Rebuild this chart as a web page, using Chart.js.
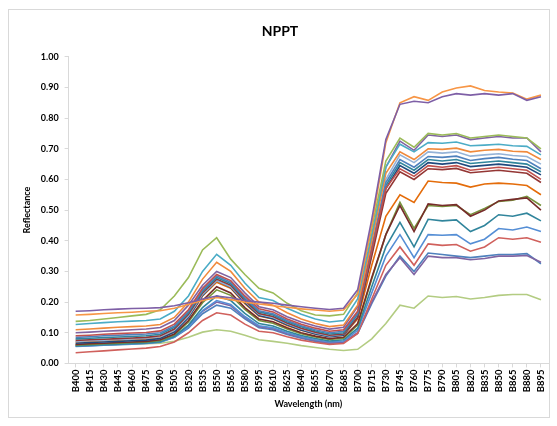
<!DOCTYPE html>
<html>
<head>
<meta charset="utf-8">
<script src="https://cdn.jsdelivr.net/npm/chart.js@4"></script>
<style>
  body { margin: 0; background: #fff; }
  canvas { display: block; }
</style>
</head>
<body>
<canvas id="chart" width="557" height="426"></canvas>
<script>
const bands = ['B400','B415','B430','B445','B460','B475','B490','B505','B520','B535','B550','B565',
  'B580','B595','B610','B625','B640','B655','B670','B685','B700','B715','B730','B745','B760','B775',
  'B790','B805','B820','B835','B850','B865','B880','B895'];

const yTicks = [0, 0.1, 0.2, 0.3, 0.4, 0.5, 0.6, 0.7, 0.8, 0.9, 1.0];

// one array per sample
const s01 = [0.170,0.172,0.175,0.177,0.179,0.180,0.182,0.188,0.198,0.210,0.220,0.214,0.205,0.200,0.196,0.190,0.185,0.180,0.176,0.180,0.240,0.470,0.730,0.845,0.855,0.850,0.870,0.880,0.875,0.880,0.875,0.880,0.858,0.870];
const s02 = [0.158,0.160,0.163,0.165,0.167,0.170,0.172,0.180,0.192,0.205,0.215,0.208,0.200,0.194,0.188,0.183,0.178,0.174,0.170,0.174,0.225,0.450,0.720,0.850,0.870,0.858,0.885,0.898,0.905,0.890,0.885,0.882,0.862,0.875];
const s03 = [0.137,0.140,0.145,0.150,0.155,0.160,0.175,0.220,0.280,0.370,0.410,0.340,0.290,0.245,0.230,0.196,0.172,0.158,0.155,0.160,0.230,0.440,0.660,0.735,0.705,0.750,0.745,0.750,0.735,0.740,0.745,0.740,0.735,0.700];
const s04 = [0.127,0.130,0.133,0.136,0.138,0.140,0.145,0.170,0.220,0.300,0.356,0.320,0.262,0.215,0.205,0.180,0.160,0.145,0.135,0.140,0.210,0.420,0.640,0.715,0.690,0.720,0.718,0.722,0.710,0.712,0.715,0.710,0.708,0.680];
const s05 = [0.110,0.112,0.115,0.118,0.120,0.122,0.127,0.150,0.200,0.275,0.330,0.300,0.245,0.200,0.190,0.165,0.145,0.130,0.120,0.125,0.190,0.400,0.620,0.690,0.665,0.700,0.698,0.702,0.690,0.695,0.698,0.692,0.690,0.665];
const s06 = [0.100,0.102,0.105,0.107,0.110,0.112,0.117,0.140,0.190,0.255,0.300,0.280,0.230,0.185,0.175,0.152,0.135,0.122,0.112,0.118,0.185,0.410,0.640,0.725,0.695,0.745,0.740,0.745,0.730,0.735,0.740,0.735,0.735,0.690];
const s07 = [0.090,0.092,0.095,0.097,0.099,0.101,0.106,0.128,0.175,0.245,0.290,0.270,0.220,0.178,0.168,0.145,0.128,0.115,0.105,0.110,0.170,0.370,0.570,0.635,0.610,0.645,0.640,0.645,0.630,0.635,0.640,0.635,0.630,0.600];
const s08 = [0.085,0.087,0.090,0.092,0.094,0.096,0.100,0.122,0.170,0.240,0.285,0.265,0.215,0.172,0.162,0.140,0.123,0.110,0.100,0.105,0.165,0.380,0.590,0.665,0.640,0.675,0.672,0.676,0.662,0.668,0.672,0.666,0.662,0.635];
const s09 = [0.080,0.082,0.084,0.086,0.088,0.090,0.095,0.118,0.165,0.235,0.280,0.260,0.210,0.168,0.158,0.136,0.120,0.106,0.096,0.100,0.160,0.370,0.580,0.655,0.630,0.665,0.660,0.665,0.652,0.656,0.660,0.655,0.650,0.625];
const s10 = [0.075,0.077,0.079,0.081,0.083,0.085,0.090,0.112,0.160,0.230,0.275,0.255,0.205,0.163,0.153,0.132,0.115,0.102,0.092,0.096,0.150,0.350,0.555,0.625,0.600,0.635,0.632,0.636,0.622,0.626,0.630,0.625,0.620,0.590];
const s11 = [0.072,0.074,0.076,0.078,0.080,0.082,0.087,0.108,0.155,0.225,0.270,0.250,0.202,0.160,0.150,0.129,0.112,0.099,0.090,0.095,0.155,0.375,0.600,0.680,0.655,0.690,0.686,0.690,0.676,0.680,0.684,0.678,0.675,0.650];
const s12 = [0.066,0.068,0.070,0.072,0.074,0.076,0.081,0.102,0.150,0.222,0.270,0.248,0.198,0.156,0.146,0.126,0.109,0.096,0.087,0.092,0.150,0.360,0.570,0.645,0.620,0.655,0.650,0.655,0.642,0.646,0.650,0.645,0.640,0.615];
const s13 = [0.070,0.072,0.074,0.076,0.078,0.080,0.085,0.105,0.150,0.220,0.265,0.245,0.195,0.155,0.145,0.124,0.108,0.096,0.088,0.092,0.145,0.320,0.480,0.550,0.525,0.595,0.590,0.588,0.575,0.585,0.588,0.585,0.580,0.550];
const s14 = [0.062,0.064,0.066,0.068,0.070,0.072,0.077,0.096,0.140,0.205,0.250,0.230,0.182,0.145,0.136,0.116,0.100,0.089,0.081,0.085,0.130,0.280,0.420,0.515,0.430,0.520,0.515,0.518,0.480,0.500,0.530,0.535,0.540,0.500];
const s15 = [0.060,0.062,0.064,0.066,0.068,0.070,0.075,0.093,0.135,0.198,0.240,0.222,0.176,0.140,0.131,0.112,0.097,0.086,0.078,0.082,0.125,0.275,0.420,0.525,0.440,0.515,0.512,0.515,0.485,0.505,0.528,0.532,0.545,0.515];
const s16 = [0.057,0.059,0.061,0.063,0.065,0.067,0.071,0.088,0.125,0.182,0.220,0.205,0.163,0.130,0.122,0.105,0.091,0.081,0.073,0.077,0.115,0.250,0.380,0.460,0.380,0.470,0.465,0.468,0.430,0.450,0.485,0.480,0.490,0.465];
const s17 = [0.055,0.057,0.059,0.061,0.063,0.065,0.069,0.085,0.118,0.172,0.205,0.192,0.153,0.123,0.116,0.100,0.087,0.077,0.070,0.073,0.108,0.230,0.350,0.420,0.345,0.420,0.418,0.420,0.390,0.405,0.440,0.435,0.445,0.430];
const s18 = [0.035,0.038,0.041,0.044,0.047,0.050,0.055,0.070,0.100,0.140,0.165,0.158,0.128,0.105,0.100,0.087,0.076,0.068,0.062,0.065,0.098,0.210,0.320,0.380,0.320,0.390,0.385,0.388,0.366,0.380,0.410,0.405,0.410,0.395];
const s19 = [0.060,0.062,0.064,0.066,0.068,0.070,0.074,0.090,0.122,0.170,0.200,0.188,0.150,0.120,0.113,0.097,0.085,0.075,0.067,0.070,0.100,0.200,0.290,0.345,0.290,0.350,0.345,0.345,0.338,0.342,0.350,0.350,0.352,0.330];
const s20 = [0.056,0.058,0.060,0.062,0.064,0.066,0.070,0.085,0.115,0.162,0.190,0.180,0.145,0.116,0.110,0.094,0.082,0.072,0.065,0.068,0.098,0.195,0.285,0.350,0.300,0.360,0.355,0.350,0.345,0.350,0.355,0.355,0.358,0.325];
const s21 = [0.060,0.060,0.061,0.062,0.063,0.064,0.066,0.072,0.085,0.102,0.110,0.105,0.092,0.077,0.072,0.066,0.058,0.052,0.046,0.042,0.046,0.080,0.130,0.190,0.180,0.220,0.215,0.218,0.210,0.215,0.222,0.225,0.225,0.208];

const samples = [s01, s02, s03, s04, s05, s06, s07, s08, s09, s10, s11, s12, s13, s14, s15, s16, s17, s18, s19, s20, s21];
const colors = ['#7E5FA6', '#F79646', '#9BBB59', '#4BACC6', '#F08A3C', '#8064A2', '#C0504D',
  '#4F81BD', '#31859C', '#943634', '#95B3D7', '#1F497D', '#E46C0A', '#772C2A', '#77933C',
  '#31859C', '#558ED5', '#D0605C', '#8064A2', '#4F81BD', '#B3CC82'];

const FONT = 'Lato, "Open Sans", sans-serif';

const frame = {
  id: 'frame',
  beforeDraw(chart) {
    const ctx = chart.ctx;
    ctx.save();
    ctx.fillStyle = '#fff';
    ctx.fillRect(0, 0, chart.width, chart.height);
    ctx.strokeStyle = '#d9d9d9';
    ctx.lineWidth = 1;
    ctx.strokeRect(8.5, 9.5, 541, 408);
    ctx.restore();
  }
};

new Chart(document.getElementById('chart'), {
  type: 'line',
  data: {
    labels: bands,
    datasets: samples.map((data, i) => ({
      label: 'Sample ' + (i + 1),
      data,
      borderColor: colors[i],
      backgroundColor: colors[i],
      borderWidth: 1.6,
      pointRadius: 0,
      tension: 0,
      fill: false
    }))
  },
  options: {
    responsive: false,
    animation: false,
    layout: { padding: { left: 12, right: 9, top: 23, bottom: 17 } },
    plugins: {
      legend: { display: false },
      tooltip: { enabled: false },
      title: {
        display: true,
        text: 'NPPT',
        color: '#000',
        font: { family: FONT, size: 14, weight: 'bold' },
        padding: { top: 0, bottom: 17 }
      }
    },
    scales: {
      x: {
        offset: true,
        grid: { display: true, drawOnChartArea: false, drawTicks: true, tickLength: 4, color: '#d9d9d9' },
        border: { color: '#d9d9d9' },
        ticks: {
          autoSkip: false,
          minRotation: 90,
          maxRotation: 90,
          padding: 2,
          color: '#000',
          font: { family: FONT, size: 9.5, weight: 'bold' }
        },
        title: {
          display: true,
          text: 'Wavelength (nm)',
          color: '#000',
          font: { family: FONT, size: 9, weight: 'bold' },
          padding: { top: 4, bottom: 0 }
        }
      },
      y: {
        min: 0,
        max: 1,
        afterBuildTicks: axis => { axis.ticks = yTicks.map(v => ({ value: v })); },
        grid: { display: true, drawOnChartArea: false, drawTicks: true, tickLength: 4, color: '#d9d9d9' },
        border: { color: '#d9d9d9' },
        ticks: {
          padding: 6,
          color: '#000',
          font: { family: FONT, size: 9, weight: 'bold' },
          callback: v => v.toFixed(2)
        },
        title: {
          display: true,
          text: 'Reflectance',
          color: '#000',
          font: { family: FONT, size: 9, weight: 'bold' },
          padding: { top: 10, bottom: 2 }
        }
      }
    }
  },
  plugins: [frame]
});
</script>
</body>
</html>
